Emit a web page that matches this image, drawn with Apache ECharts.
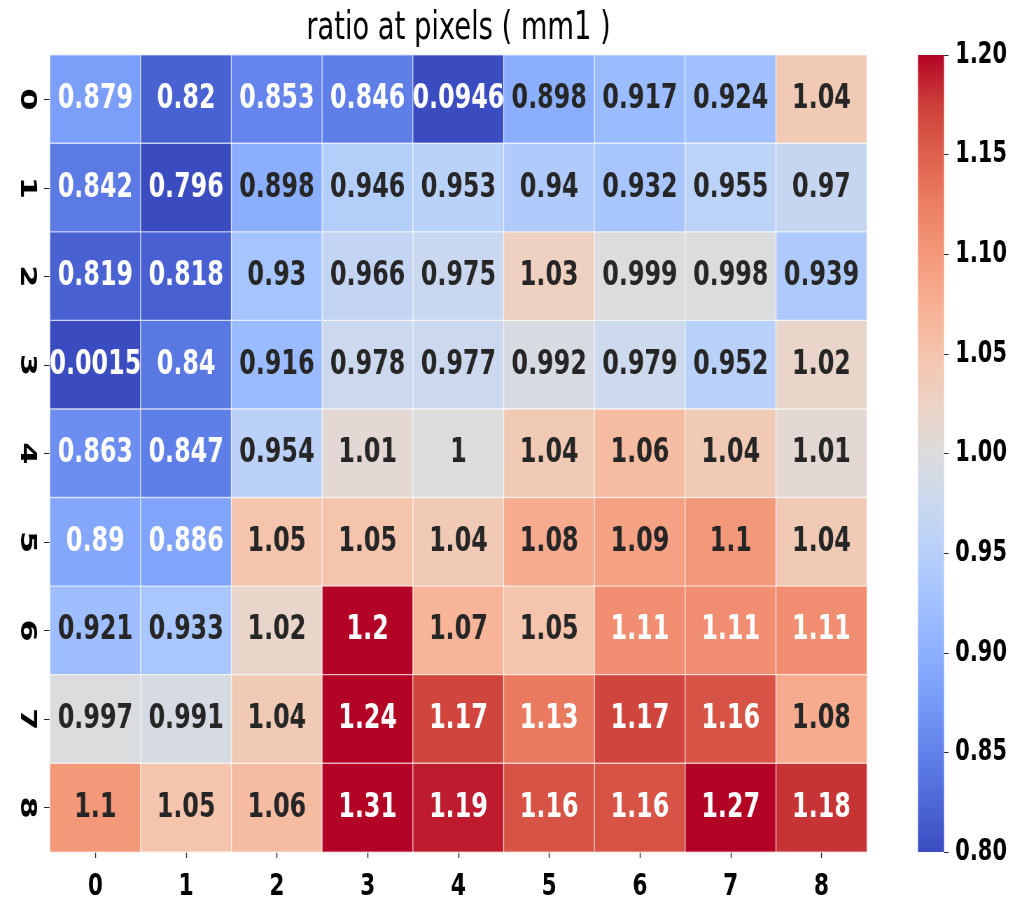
<!DOCTYPE html>
<html>
<head>
<meta charset="utf-8">
<script src="https://cdn.jsdelivr.net/npm/echarts@6/dist/echarts.min.js"></script>
<style>
  html, body { margin: 0; padding: 0; background: #ffffff; overflow: hidden; }
  /* the figure is laid out wide and then narrowed to 1020px, giving the tall, narrow lettering */
  #chart { width: 1457px; height: 902px; transform: scaleX(0.7); transform-origin: 0 0; }
</style>
</head>
<body>
<div id="chart"></div>
<script>
// Pixel indices along each axis
const colLabels = ['0', '1', '2', '3', '4', '5', '6', '7', '8'];
const rowLabels = ['0', '1', '2', '3', '4', '5', '6', '7', '8'];

// Ratio per pixel, one array per row
const row0 = [0.879, 0.82, 0.853, 0.846, 0.0946, 0.898, 0.917, 0.924, 1.04];
const row1 = [0.842, 0.796, 0.898, 0.946, 0.953, 0.94, 0.932, 0.955, 0.97];
const row2 = [0.819, 0.818, 0.93, 0.966, 0.975, 1.03, 0.999, 0.998, 0.939];
const row3 = [0.0015, 0.84, 0.916, 0.978, 0.977, 0.992, 0.979, 0.952, 1.02];
const row4 = [0.863, 0.847, 0.954, 1.01, 1, 1.04, 1.06, 1.04, 1.01];
const row5 = [0.89, 0.886, 1.05, 1.05, 1.04, 1.08, 1.09, 1.1, 1.04];
const row6 = [0.921, 0.933, 1.02, 1.2, 1.07, 1.05, 1.11, 1.11, 1.11];
const row7 = [0.997, 0.991, 1.04, 1.24, 1.17, 1.13, 1.17, 1.16, 1.08];
const row8 = [1.1, 1.05, 1.06, 1.31, 1.19, 1.16, 1.16, 1.27, 1.18];
const ratioRows = [row0, row1, row2, row3, row4, row5, row6, row7, row8];

// Colour scale limits
const vmin = 0.8;
const vmax = 1.2;
const colorbarStep = 0.05;

// Diverging blue-grey-red colour map, sampled along [0, 1]
const coolwarm = [
  '#3b4cc0', '#4d68d7', '#6282ea', '#779af7', '#8db0fe', '#a2c1ff',
  '#b8d0f9', '#cad8ef', '#dddcdc', '#ecd3c5', '#f5c4ac', '#f7b093',
  '#f4987a', '#ec7f63', '#de604d', '#cc403a', '#b40426'
];

function hexToRgb(h) {
  return [parseInt(h.slice(1, 3), 16), parseInt(h.slice(3, 5), 16), parseInt(h.slice(5, 7), 16)];
}
function mapColor(v) {
  const t = (Math.min(vmax, Math.max(vmin, v)) - vmin) / (vmax - vmin);
  const pos = t * (coolwarm.length - 1);
  const i = Math.min(coolwarm.length - 2, Math.floor(pos));
  const f = pos - i;
  const a = hexToRgb(coolwarm[i]), b = hexToRgb(coolwarm[i + 1]);
  return a.map((c, k) => c + (b[k] - c) * f);
}
// Light text on dark cells, dark text on light cells
function textColor(v) {
  const lin = mapColor(v).map(c => {
    c /= 255;
    return c <= 0.03928 ? c / 12.92 : Math.pow((c + 0.055) / 1.055, 2.4);
  });
  const lum = 0.2126 * lin[0] + 0.7152 * lin[1] + 0.0722 * lin[2];
  return lum > 0.408 ? '#262626' : '#ffffff';
}
// Three significant digits
function fmt(v) {
  return String(Number(v.toPrecision(3)));
}

const cells = [];
ratioRows.forEach((row, r) => {
  row.forEach((v, c) => {
    cells.push({
      value: [c, r, v, Math.min(vmax, Math.max(vmin, v))],
      label: { color: textColor(v) }
    });
  });
});

const font = "'DejaVu Sans', sans-serif";
const tickColor = '#262626';

const chart = echarts.init(document.getElementById('chart'), null, { renderer: 'canvas' });

chart.setOption({
  animation: false,
  backgroundColor: '#ffffff',
  title: {
    text: 'ratio at pixels ( mm1 )',
    left: 650,
    textAlign: 'center',
    top: 4,
    textStyle: {
      fontFamily: font,
      fontWeight: 'normal',
      fontSize: 39,
      color: '#000000'
    }
  },
  grid: [
    { left: 71.4, top: 55, width: 1167, height: 797 },
    { left: 1311.4, top: 55, width: 37.2, height: 797 }
  ],
  xAxis: [
    {
      type: 'category',
      gridIndex: 0,
      data: colLabels,
      axisLine: { show: false },
      axisTick: { show: true, alignWithLabel: true, length: 6, lineStyle: { color: tickColor, width: 1.4 } },
      axisLabel: { fontFamily: font, fontWeight: 'bold', fontSize: 31, color: '#000000', margin: 19 },
      splitLine: { show: false }
    },
    {
      type: 'category',
      gridIndex: 1,
      data: [''],
      show: false
    }
  ],
  yAxis: [
    {
      type: 'category',
      gridIndex: 0,
      data: rowLabels,
      inverse: true,
      axisLine: { show: false },
      axisTick: { show: true, alignWithLabel: true, length: 8.5, lineStyle: { color: tickColor, width: 1 } },
      axisLabel: { fontFamily: font, fontWeight: 'bold', fontSize: 32, color: '#000000', rotate: -90, margin: 17 },
      splitLine: { show: false }
    },
    {
      type: 'value',
      gridIndex: 1,
      position: 'right',
      min: vmin,
      max: vmax,
      interval: colorbarStep,
      axisLine: { show: false },
      axisTick: { show: true, length: 6.5, lineStyle: { color: tickColor, width: 1 } },
      axisLabel: {
        fontFamily: font, fontWeight: 'bold', fontSize: 30, color: '#000000', margin: 16,
        formatter: v => v.toFixed(2)
      },
      splitLine: { show: false }
    }
  ],
  visualMap: {
    show: false,
    type: 'continuous',
    seriesIndex: 0,
    dimension: 3,
    min: vmin,
    max: vmax,
    inRange: { color: coolwarm }
  },
  series: [
    {
      type: 'heatmap',
      xAxisIndex: 0,
      yAxisIndex: 0,
      data: cells,
      itemStyle: { borderColor: 'rgba(255,255,255,0.65)', borderWidth: 1.4 },
      label: {
        show: true,
        fontFamily: font,
        fontWeight: 'bold',
        fontSize: 34,
        formatter: p => fmt(p.value[2])
      },
      emphasis: { disabled: true }
    },
    {
      // colour bar: transparent base up to vmin, then the gradient up to vmax
      type: 'bar',
      xAxisIndex: 1,
      yAxisIndex: 1,
      stack: 'colorbar',
      barWidth: '100%',
      silent: true,
      data: [vmin],
      itemStyle: { color: 'rgba(0,0,0,0)' }
    },
    {
      type: 'bar',
      xAxisIndex: 1,
      yAxisIndex: 1,
      stack: 'colorbar',
      barWidth: '100%',
      silent: true,
      data: [vmax - vmin],
      itemStyle: {
        color: new echarts.graphic.LinearGradient(0, 1, 0, 0,
          coolwarm.map((c, i) => ({ offset: i / (coolwarm.length - 1), color: c })))
      }
    }
  ]
});
</script>
</body>
</html>
